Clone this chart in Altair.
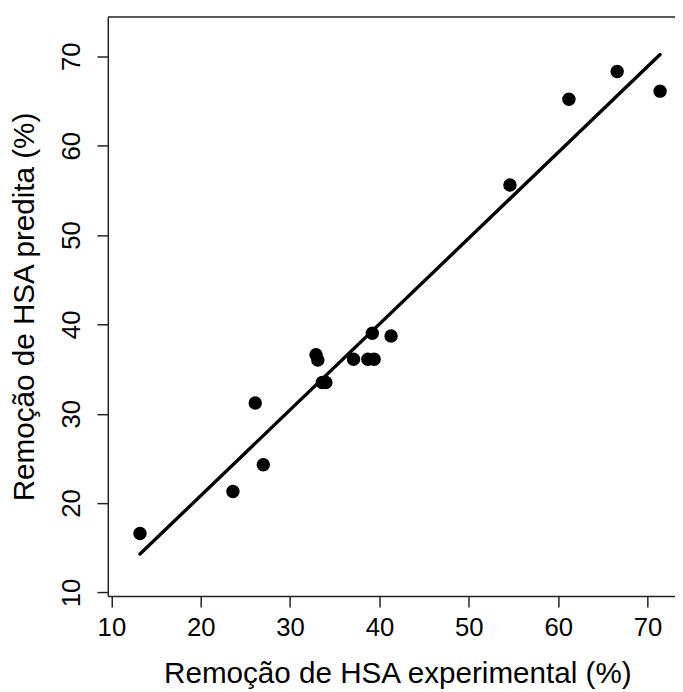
import altair as alt
import pandas as pd

# Values
experimental = [13.2, 23.6, 27.0, 26.1, 32.9, 33.1, 33.6, 34.0, 37.1,
                38.7, 39.4, 39.2, 41.3, 54.6, 61.2, 66.6, 71.4]
predicted = [16.6, 21.3, 24.3, 31.2, 36.6, 36.0, 33.5, 33.5, 36.1,
             36.1, 36.1, 39.0, 38.7, 55.6, 65.2, 68.3, 66.1]

fit_x = [13.2, 71.4]
fit_y = [14.3, 70.2]

tick_values = [10, 20, 30, 40, 50, 60, 70]

x_title = "Remoção de HSA experimental (%)"
y_title = "Remoção de HSA predita (%)"

df = pd.DataFrame({"exp": experimental, "pred": predicted})
fit = pd.DataFrame({"exp": fit_x, "pred": fit_y})

FONT = "Liberation Sans"
W, H = 574, 586

xscale = alt.Scale(domain=[9.6, 73.07], nice=False, zero=False)
yscale = alt.Scale(domain=[9.6, 74.4], nice=False, zero=False)

xaxis = alt.Axis(
    values=tick_values, title=x_title, grid=False,
    labelAngle=0, labelBaseline="top", labelPadding=8, labelFlush=False,
    labelOverlap=False,
    titleX=W / 2 + 6, titleY=88, titleAlign="center", titleBaseline="alphabetic",
)
yaxis = alt.Axis(
    values=tick_values, title=y_title, grid=False,
    labelAngle=270, labelAlign="center", labelBaseline="alphabetic",
    labelPadding=18, labelFlush=False, labelOverlap=False,
    titleAngle=270, titleX=-75, titleY=H / 2, titleAlign="center",
    titleBaseline="alphabetic",
)

points = alt.Chart(df).mark_circle(size=185, color="black", opacity=1).encode(
    x=alt.X("exp:Q", scale=xscale, axis=xaxis),
    y=alt.Y("pred:Q", scale=yscale, axis=yaxis),
)

line = alt.Chart(fit).mark_line(color="black", strokeWidth=3.4, strokeCap="round").encode(
    x=alt.X("exp:Q"),
    y=alt.Y("pred:Q"),
)

top_border = alt.Chart(pd.DataFrame({"a": [0]})).mark_rule(
    color="#222222", strokeWidth=1.5
).encode(x=alt.value(0), x2=alt.value(W), y=alt.value(0))

chart = alt.layer(line, points, top_border).properties(
    width=W, height=H, autosize="none",
    padding={"left": 101, "top": 5, "right": 0, "bottom": 90},
).configure_view(
    stroke="transparent"
).configure_axis(
    labelFont=FONT, labelFontSize=26, labelColor="black",
    titleFont=FONT, titleFontSize=30, titleFontWeight="normal", titleColor="black",
    tickColor="#222222", tickSize=11, tickWidth=1.5,
    domainColor="#222222", domainWidth=1.5,
)

chart.save("out.html", embed_options={"renderer": "svg", "actions": False})
